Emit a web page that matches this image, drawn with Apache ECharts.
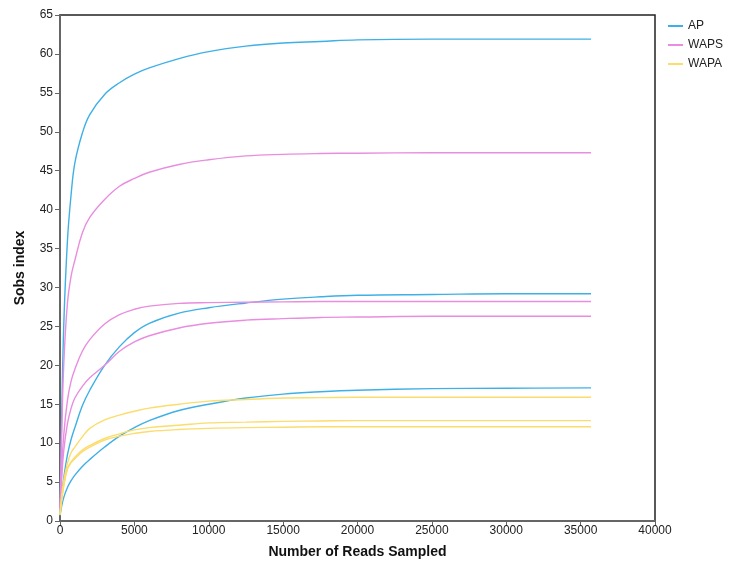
<!DOCTYPE html>
<html>
<head>
  <meta charset="UTF-8">
  <title>rarefaction</title>
  <style>
    html, body { margin:0; padding:0; background:#fff; }
    #chart { width:733px; height:574px; }
  </style>
</head>
<body>
  <div id="chart"></div>
  <script src="https://cdn.jsdelivr.net/npm/echarts@6/dist/echarts.min.js"></script>
  <script>
    var reads = [0, 100, 250, 500, 750, 1000, 1500, 2000, 3000, 4000, 5000, 6000, 8000, 10000, 12500, 15000, 17500, 20000, 25000, 30000, 35700]

    var ap1 = [1, 12, 25, 36, 42, 46, 49.8, 52.2, 54.8, 56.3, 57.4, 58.2, 59.4, 60.3, 61, 61.4, 61.6, 61.8, 61.9, 61.9, 61.9]
    var ap2 = [0.8, 3, 5.5, 8.5, 10.5, 12, 14.8, 16.8, 20, 22.4, 24.2, 25.4, 26.7, 27.4, 28, 28.5, 28.8, 29, 29.1, 29.2, 29.2]
    var ap3 = [0.7, 1.8, 3, 4.3, 5.2, 5.9, 7, 7.9, 9.5, 10.9, 12, 12.9, 14.2, 15, 15.8, 16.3, 16.6, 16.8, 17, 17.05, 17.1]

    var waps1 = [1, 10, 20, 28, 31.5, 33.5, 37, 39, 41.3, 43, 44, 44.8, 45.8, 46.4, 46.9, 47.1, 47.2, 47.25, 47.3, 47.3, 47.3]
    var waps2 = [1, 6, 11, 15.5, 18, 19.5, 21.8, 23.3, 25.3, 26.5, 27.2, 27.6, 27.95, 28.05, 28.1, 28.15, 28.2, 28.2, 28.2, 28.2, 28.2]
    var waps3 = [1, 5, 9, 12.5, 14.5, 15.8, 17.3, 18.4, 20, 21.8, 23, 23.8, 24.8, 25.4, 25.8, 26, 26.15, 26.2, 26.3, 26.3, 26.3]

    var wapa1 = [0.8, 3, 5.2, 7.4, 8.8, 9.5, 10.8, 11.9, 13, 13.6, 14.1, 14.5, 15, 15.4, 15.6, 15.8, 15.85, 15.9, 15.9, 15.9, 15.9]
    var wapa2 = [0.8, 2.5, 4.5, 6.7, 7.6, 8.2, 9.1, 9.7, 10.6, 11.2, 11.7, 12, 12.3, 12.6, 12.7, 12.8, 12.85, 12.9, 12.9, 12.9, 12.9]
    var wapa3 = [0.8, 2.5, 4.5, 6.7, 7.5, 8, 8.9, 9.5, 10.4, 10.9, 11.25, 11.5, 11.75, 11.9, 12, 12.05, 12.1, 12.1, 12.1, 12.1, 12.1]

    var groups = ['AP', 'WAPS', 'WAPA']
    var colors = { AP: '#3fb0e6', WAPS: '#e98ddf', WAPA: '#fbdc6c' }
    var curves = [
      ['AP', ap1], ['AP', ap2], ['AP', ap3],
      ['WAPS', waps1], ['WAPS', waps2], ['WAPS', waps3],
      ['WAPA', wapa1], ['WAPA', wapa2], ['WAPA', wapa3]
    ]

    var series = curves.map(function (c) {
      return {
        name: c[0],
        type: 'line',
        showSymbol: false,
        smooth: 0.4,
        lineStyle: { width: 1.4, color: colors[c[0]] },
        itemStyle: { color: colors[c[0]] },
        data: c[1].map(function (v, i) { return [reads[i], v] })
      }
    })

    var font = 'Liberation Sans, Arial, sans-serif'
    var myChart = echarts.init(document.getElementById('chart'))
    myChart.setOption({
      animation: false,
      textStyle: { fontFamily: font },
      grid: {
        left: 60, right: 78, top: 15, bottom: 53,
        show: true, borderColor: '#222', borderWidth: 1.5
      },
      legend: {
        data: groups,
        orient: 'vertical',
        left: 663, top: 15,
        icon: 'rect',
        itemWidth: 15, itemHeight: 2,
        itemGap: 7,
        textStyle: { fontSize: 12, color: '#222', fontFamily: font }
      },
      xAxis: {
        type: 'value',
        min: 0, max: 40000, interval: 5000,
        name: 'Number of Reads Sampled',
        nameLocation: 'middle',
        nameGap: 24,
        nameTextStyle: { fontSize: 14, fontWeight: 'bold', color: '#111', fontFamily: font },
        axisLine: { lineStyle: { color: '#666', width: 2 } },
        axisTick: { length: 5, lineStyle: { color: '#666' } },
        axisLabel: { fontSize: 12, color: '#222', margin: 4, fontFamily: font, formatter: function (v) { return String(v) } },
        splitLine: { show: false }
      },
      yAxis: {
        type: 'value',
        min: 0, max: 65, interval: 5,
        name: 'Sobs index',
        nameLocation: 'middle',
        nameGap: 33,
        nameTextStyle: { fontSize: 14, fontWeight: 'bold', color: '#111', fontFamily: font },
        axisLine: { show: true, lineStyle: { color: '#666', width: 2 } },
        axisTick: { show: true, length: 5, lineStyle: { color: '#666' } },
        axisLabel: { fontSize: 12, color: '#222', margin: 7, fontFamily: font },
        splitLine: { show: false }
      },
      series: series
    })
  </script>
</body>
</html>
